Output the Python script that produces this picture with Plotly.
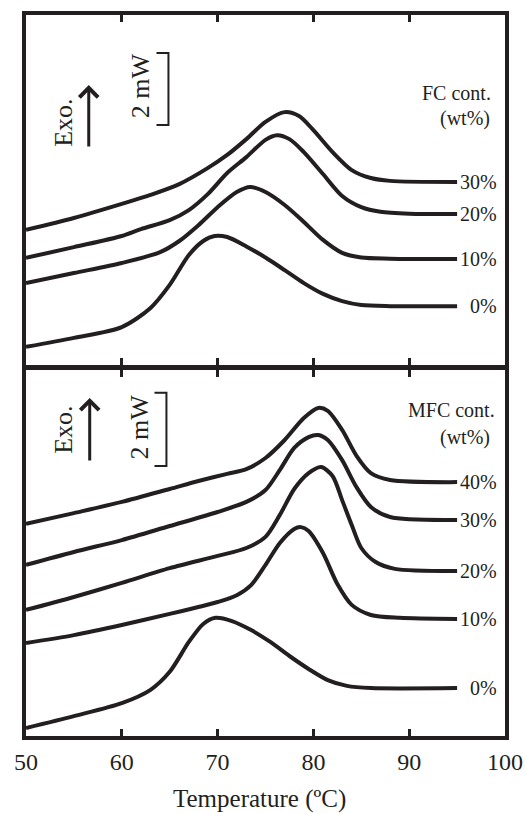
import plotly.graph_objects as go

# ---------------- data ----------------
# Heat flow in mW (arbitrary offset), y=0 at bottom of each panel
# Top panel: FC content
fc_labels = ["0%", "10%", "20%", "30%"]
fc0_T = [50, 55, 60, 63, 65, 67, 68.5, 69.7, 71, 73, 75, 77, 79, 81, 83, 85, 88, 95]
fc0_Q = [0.56, 0.81, 1.11, 1.64, 2.28, 3.11, 3.50, 3.64, 3.61, 3.35, 3.04, 2.69, 2.33, 2.03, 1.83, 1.72, 1.69, 1.69]
fc10_T = [50, 55, 60, 64, 66, 68, 70, 72, 73.4, 75, 77, 79, 81, 83, 85, 88, 95]
fc10_Q = [2.33, 2.61, 2.89, 3.19, 3.50, 3.94, 4.44, 4.86, 5.00, 4.86, 4.50, 4.03, 3.53, 3.17, 3.04, 3.01, 3.00]
fc20_T = [50, 55, 60, 62, 65, 67, 69, 71, 73, 75, 76.2, 77.5, 79, 81, 83, 85, 87, 90, 95]
fc20_Q = [3.03, 3.33, 3.64, 3.83, 4.08, 4.36, 4.81, 5.39, 5.83, 6.31, 6.44, 6.33, 5.97, 5.36, 4.75, 4.44, 4.31, 4.26, 4.25]
fc30_T = [50, 55, 60, 63, 66, 69, 71, 73, 75, 77, 78.5, 80, 82, 84, 86, 88, 95]
fc30_Q = [3.81, 4.14, 4.53, 4.78, 5.08, 5.53, 5.89, 6.33, 6.81, 7.08, 6.97, 6.58, 5.97, 5.47, 5.25, 5.17, 5.14]

# Bottom panel: MFC content
mfc_labels = ["0%", "10%", "20%", "30%", "40%"]
mfc0_T = [50, 55, 60, 63, 65, 67, 68.5, 69.8, 71.5, 73.5, 75.5, 77.5, 79.5, 81.5, 83.5, 86, 95]
mfc0_Q = [0.25, 0.58, 0.94, 1.31, 1.81, 2.64, 3.14, 3.31, 3.22, 2.97, 2.64, 2.25, 1.89, 1.58, 1.42, 1.36, 1.36]
mfc10_T = [50, 55, 60, 65, 68, 70, 72, 73.5, 75, 76.5, 78, 78.7, 79.5, 81, 82.5, 84, 86, 89, 95]
mfc10_Q = [2.61, 2.83, 3.11, 3.42, 3.61, 3.75, 3.94, 4.22, 4.78, 5.39, 5.78, 5.83, 5.72, 5.11, 4.25, 3.67, 3.39, 3.31, 3.28]
mfc20_T = [50, 55, 60, 65, 70, 73, 75, 76.5, 78, 79.5, 80.8, 82, 83, 84, 85, 86.5, 88.5, 95]
mfc20_Q = [3.53, 3.89, 4.28, 4.69, 5.03, 5.25, 5.56, 6.17, 6.89, 7.33, 7.50, 7.25, 6.58, 5.89, 5.25, 4.86, 4.67, 4.61]
mfc30_T = [50, 55, 60, 65, 70, 73, 75, 76.5, 78, 79.5, 80.5, 81.5, 83, 84.5, 86, 88, 95]
mfc30_Q = [4.78, 5.14, 5.47, 5.86, 6.25, 6.53, 6.86, 7.42, 8.03, 8.33, 8.39, 8.25, 7.69, 6.94, 6.39, 6.11, 6.03]
mfc40_T = [50, 55, 60, 65, 68, 71, 73, 75, 77, 79, 80.5, 81.5, 83, 84.5, 86, 88, 95]
mfc40_Q = [5.92, 6.22, 6.53, 6.89, 7.11, 7.31, 7.44, 7.75, 8.25, 8.86, 9.14, 9.06, 8.53, 7.81, 7.33, 7.14, 7.08]

x_ticks = [50, 60, 70, 80, 90, 100]
x_title = "Temperature (ºC)"

# ---------------- figure ----------------
INK = "#231f20"
FONT = "Liberation Serif"

fig = go.Figure()

top = [(fc0_T, fc0_Q), (fc10_T, fc10_Q), (fc20_T, fc20_Q), (fc30_T, fc30_Q)]
bot = [(mfc0_T, mfc0_Q), (mfc10_T, mfc10_Q), (mfc20_T, mfc20_Q), (mfc30_T, mfc30_Q), (mfc40_T, mfc40_Q)]

for (t, q) in top:
    fig.add_trace(go.Scatter(x=t, y=q, mode="lines", xaxis="x2", yaxis="y2",
                             line=dict(color=INK, width=4, shape="spline", smoothing=0.8),
                             showlegend=False, hoverinfo="skip"))
for (t, q) in bot:
    fig.add_trace(go.Scatter(x=t, y=q, mode="lines", xaxis="x", yaxis="y",
                             line=dict(color=INK, width=4, shape="spline", smoothing=0.8),
                             showlegend=False, hoverinfo="skip"))

H = 721.0  # plot-area height in px
bot_top_px = 366.5   # px from plot bottom to top edge of lower panel
top_bot_px = 371.5   # px from plot bottom to bottom edge of upper panel
axis_common = dict(showline=True, linecolor=INK, linewidth=4, mirror=True,
                   showgrid=False, zeroline=False, automargin=False)
xcommon = dict(axis_common, range=[50, 100], tickvals=x_ticks, ticks="inside",
               ticklen=7, tickwidth=3, tickcolor=INK, mirror="allticks")

fig.update_layout(
    width=526, height=813,
    margin=dict(l=26, r=21, t=15, b=77, autoexpand=False),
    paper_bgcolor="white", plot_bgcolor="white",
    font=dict(family=FONT, color=INK),
    xaxis=dict(xcommon, anchor="y", showticklabels=True,
               tickfont=dict(family=FONT, size=24, color=INK), ticklabelstandoff=1),
    yaxis=dict(axis_common, domain=[0, bot_top_px / H], range=[1 / 36.0, 367.5 / 36.0],
               showticklabels=False, ticks=""),
    xaxis2=dict(xcommon, anchor="y2", matches="x", showticklabels=False),
    yaxis2=dict(axis_common, domain=[top_bot_px / H, 1], range=[2.5 / 36.0, 352 / 36.0],
                showticklabels=False, ticks=""),
)

ann = []
# series labels (right side)
for lab, (t, q) in zip(fc_labels, top):
    ann.append(dict(x=99.4, y=q[-1], xref="x2", yref="y2", text=lab, showarrow=False,
                    xanchor="right", yanchor="middle", font=dict(size=20, family=FONT, color=INK)))
for lab, (t, q) in zip(mfc_labels, bot):
    ann.append(dict(x=99.4, y=q[-1], xref="x", yref="y", text=lab, showarrow=False,
                    xanchor="right", yanchor="middle", font=dict(size=20, family=FONT, color=INK)))

# legend headings
ann += [
    dict(x=98.7, y=7.61, xref="x2", yref="y2", text="FC cont.", showarrow=False,
         xanchor="right", yanchor="middle", font=dict(size=20, family=FONT, color=INK)),
    dict(x=98.6, y=6.89, xref="x2", yref="y2", text="(wt%)", showarrow=False,
         xanchor="right", yanchor="middle", font=dict(size=20, family=FONT, color=INK)),
    dict(x=99.2, y=9.08, xref="x", yref="y", text="MFC cont.", showarrow=False,
         xanchor="right", yanchor="middle", font=dict(size=20, family=FONT, color=INK)),
    dict(x=98.6, y=8.33, xref="x", yref="y", text="(wt%)", showarrow=False,
         xanchor="right", yanchor="middle", font=dict(size=20, family=FONT, color=INK)),
]

# Exo. text, arrow and 2 mW text
for xr, yr, exo_y, ar_x, ar_tail, ar_tip, mw_x, mw_y in [
        ("x2", "y2", 6.78, 56.55, 6.08, 7.83, 61.95, 7.81),
        ("x", "y", 8.53, 56.65, 7.64, 9.42, 61.85, 8.61)]:
    ann.append(dict(x=53.95, y=exo_y, xref=xr, yref=yr, text="Exo.", showarrow=False,
                    textangle=-90, font=dict(size=26, family=FONT, color=INK)))
    ann.append(dict(x=ar_x, y=ar_tip, xref=xr, yref=yr, ax=ar_x, ay=ar_tail,
                    axref=xr, ayref=yr, text="", showarrow=True, arrowhead=4,
                    arrowsize=1.2, arrowwidth=3, arrowcolor=INK))
    ann.append(dict(x=mw_x, y=mw_y, xref=xr, yref=yr, text="2 mW", showarrow=False,
                    textangle=-90, font=dict(size=26, family=FONT, color=INK)))

# x-axis title
ann.append(dict(x=74.4, y=-63 / H, xref="x", yref="paper", text=x_title,
                showarrow=False, xanchor="center", yanchor="middle",
                font=dict(size=25, family=FONT, color=INK)))
fig.update_layout(annotations=ann)

# 2 mW scale brackets
shapes = []
for xr, yr, bx, bl, y0, y1 in [("x2", "y2", 64.87, 63.62, 6.72, 8.72),
                              ("x", "y", 64.66, 63.41, 7.53, 9.56)]:
    path = f"M {bl},{y1} L {bx},{y1} L {bx},{y0} L {bl},{y0}"
    shapes.append(dict(type="path", path=path, xref=xr, yref=yr,
                       line=dict(color=INK, width=2)))
fig.update_layout(shapes=shapes)

fig.write_html("out.html", config={"displayModeBar": False},
               post_script="document.body.style.margin='0';document.body.style.padding='0';")
